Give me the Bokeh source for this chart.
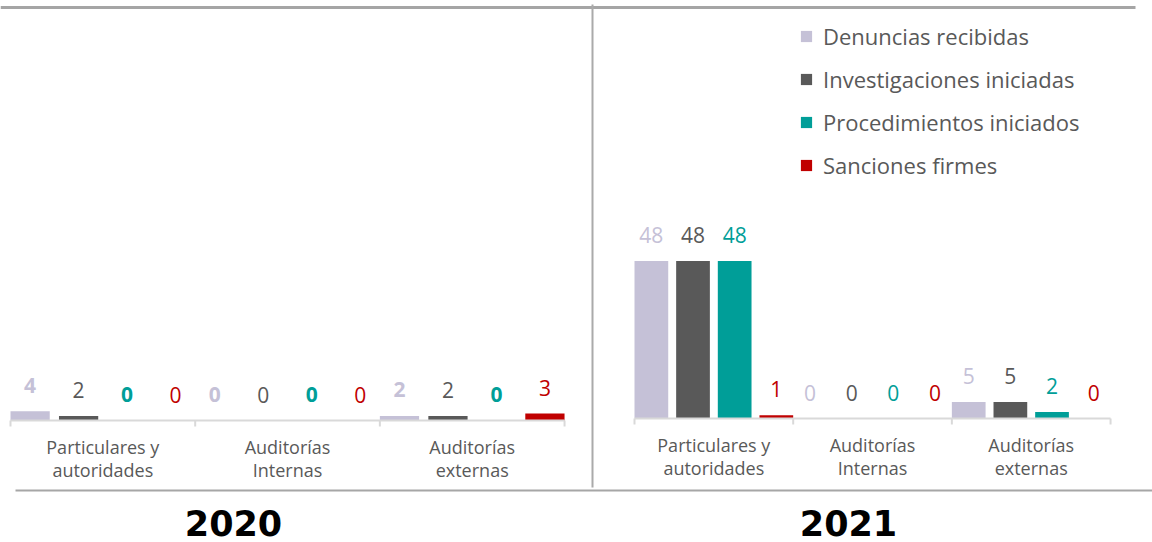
import math
from bokeh.plotting import figure
from bokeh.models import Range1d, Legend, LegendItem
from bokeh.core.properties import value
from bokeh.embed import file_html
from bokeh.resources import INLINE

# ---------------- data ----------------
categories = ["Particulares y\nautoridades", "Auditorías\nInternas", "Auditorías\nexternas"]
series = ["Denuncias recibidas", "Investigaciones iniciadas",
          "Procedimientos iniciados", "Sanciones firmes"]
years = ["2020", "2021"]

denuncias_2020 = [4, 0, 2]
investigaciones_2020 = [2, 0, 2]
procedimientos_2020 = [0, 0, 0]
sanciones_2020 = [0, 0, 3]

denuncias_2021 = [48, 0, 5]
investigaciones_2021 = [48, 0, 5]
procedimientos_2021 = [48, 0, 2]
sanciones_2021 = [1, 0, 0]

# ---------------- style ----------------
colors = ["#C5C1D7", "#595959", "#009E98", "#C00000"]
FONT = "Open Sans"
W, H = 1152, 542
BAR_W = 0.85

p = figure(width=W, height=H, x_range=Range1d(0, W), y_range=Range1d(0, H),
           output_backend="svg", toolbar_location=None, min_border=0,
           x_axis_location=None, y_axis_location=None)
p.grid.visible = False
p.outline_line_color = None
p.background_fill_color = "white"

panels = [
    dict(name="p2020", px0=10, ppu=46.17, base=122, vpp=2.3,
         data=[denuncias_2020, investigaciones_2020, procedimientos_2020, sanciones_2020],
         bold=["bold", "normal", "bold", "normal"]),
    dict(name="p2021", px0=634, ppu=39.67, base=124, vpp=3.28,
         data=[denuncias_2021, investigaciones_2021, procedimientos_2021, sanciones_2021],
         bold=["normal", "normal", "normal", "normal"]),
]

n_series = len(series)
step = (n_series - BAR_W) / (n_series - 1)   # bars fill each group edge to edge
legend_renderers = []
for pan in panels:
    nm = pan["name"]
    p.extra_x_ranges[nm] = Range1d(-pan["px0"] / pan["ppu"], (W - pan["px0"]) / pan["ppu"])
    p.extra_y_ranges[nm] = Range1d(-pan["base"] / pan["vpp"], (H - pan["base"]) / pan["vpp"])
    rends = []
    for si, vals in enumerate(pan["data"]):
        xs = [gi * n_series + n_series / 2 + (si - (n_series - 1) / 2) * step
              for gi in range(len(categories))]
        r = p.vbar(x=xs, top=vals, bottom=0, width=BAR_W, fill_color=colors[si],
                   line_color=None, x_range_name=nm, y_range_name=nm)
        rends.append(r)
        p.text(x=xs, y=vals, text=[str(v) for v in vals], text_align="center",
               text_baseline="alphabetic", y_offset=-26, text_color=colors[si],
               text_font=value(FONT), text_font_size="21px",
               text_font_style=pan["bold"][si],
               x_range_name=nm, y_range_name=nm)
    legend_renderers = rends
    # category axis
    nb = len(categories) * n_series
    p.segment(x0=[0], x1=[nb], y0=[0], y1=[0], line_color="#D9D9D9", line_width=2,
              x_range_name=nm, y_range_name=nm)
    ticks = [gi * n_series for gi in range(len(categories) + 1)]
    p.ray(x=ticks, y=[0] * len(ticks), length=6, length_units="screen",
          angle=-math.pi / 2, line_color="#D9D9D9", line_width=2,
          x_range_name=nm, y_range_name=nm)
    centers = [gi * n_series + n_series / 2 for gi in range(len(categories))]
    p.text(x=centers, y=[0] * len(centers), text=categories, text_align="center",
           text_baseline="top", y_offset=14, text_color="#595959",
           text_font=value(FONT), text_font_size="18px", text_line_height=0.96,
           x_range_name=nm, y_range_name=nm)

# frame lines
p.segment(x0=[0], x1=[1135], y0=[535], y1=[535], line_color="#A5A5A5", line_width=3)
p.segment(x0=[592], x1=[592], y0=[55], y1=[538], line_color="#AAAAAA", line_width=2)
p.segment(x0=[15], x1=[1152], y0=[52], y1=[52], line_color="#A6A6A6", line_width=2)

# year labels
p.text(x=[233, 848], y=[20, 20], text=years, text_align="center", text_baseline="middle",
       text_color="black", text_font=value("DejaVu Sans"), text_font_size="35px",
       text_font_style="bold")

legend = Legend(items=[LegendItem(label=s, renderers=[legend_renderers[i]])
                       for i, s in enumerate(series)],
                location=(799, 362), orientation="vertical",
                glyph_width=14, glyph_height=14, label_standoff=10,
                label_text_font=FONT, label_text_font_size="22px",
                label_text_color="#595959", spacing=13, padding=0, margin=0,
                border_line_color=None, background_fill_alpha=0)
p.add_layout(legend)

open("out.html", "w").write(file_html(p, INLINE))
